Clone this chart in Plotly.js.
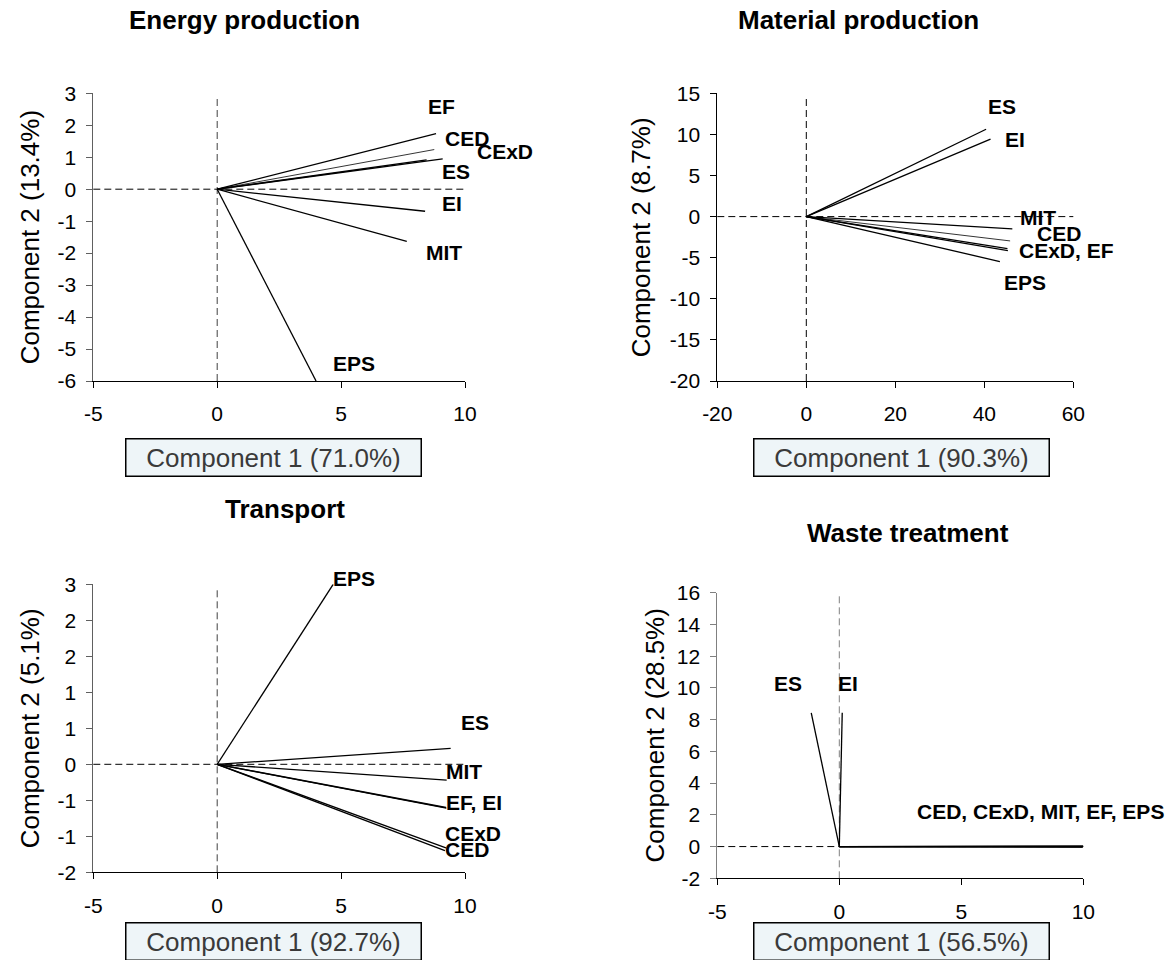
<!DOCTYPE html>
<html>
<head>
<meta charset="utf-8">
<script src="https://cdn.plot.ly/plotly-3.0.1.min.js"></script>
<style>html,body{margin:0;padding:0;background:#fff}#chart{width:1175px;height:960px}</style>
</head>
<body>
<div id="chart"></div>
<script>
// ---------------- data ----------------
const indicators = ['CED', 'CExD', 'MIT', 'EF', 'ES', 'EI', 'EPS'];

const energyX = [8.76, 9.10, 7.65, 8.83, 8.45, 8.39, 3.99];
const energyY = [1.24, 0.95, -1.63, 1.74, 0.92, -0.69, -6.00];

const materialX = [45.8, 45.2, 46.3, 45.3, 40.4, 41.4, 43.5];
const materialY = [-2.96, -3.90, -1.50, -4.15, 10.63, 9.42, -5.47];

const transportX = [9.19, 9.23, 9.26, 9.23, 9.42, 9.25, 4.68];
const transportY = [-1.20, -1.16, -0.22, -0.60, 0.22, -0.61, 2.50];

const wasteX = [10.0, 9.98, 9.99, 10.0, -1.15, 0.12, 9.97];
const wasteY = [0.02, -0.02, 0.00, 0.03, 8.43, 8.43, -0.03];

const panelTitles = ['Energy production', 'Material production', 'Transport', 'Waste treatment'];
const xTitles = ['Component 1 (71.0%)', 'Component 1 (90.3%)', 'Component 1 (92.7%)', 'Component 1 (56.5%)'];
const yTitles = ['Component 2 (13.4%)', 'Component 2 (8.7%)', 'Component 2 (5.1%)', 'Component 2 (28.5%)'];

const energyXTicks = [-5, 0, 5, 10];
const energyYTicks = [-6, -5, -4, -3, -2, -1, 0, 1, 2, 3];
const materialXTicks = [-20, 0, 20, 40, 60];
const materialYTicks = [-20, -15, -10, -5, 0, 5, 10, 15];
const transportXTicks = [-5, 0, 5, 10];
const transportYTicks = [-1.5, -1, -0.5, 0, 0.5, 1, 1.5, 2, 2.5];
const transportYTickText = ['-2', '-1', '-1', '0', '1', '1', '2', '2', '3'];
const wasteXTicks = [-5, 0, 5, 10];
const wasteYTicks = [-2, 0, 2, 4, 6, 8, 10, 12, 14, 16];

const energyLabelText = ['EF', 'CED', 'CExD', 'ES', 'EI', 'MIT', 'EPS'];
const materialLabelText = ['ES', 'EI', 'MIT', 'CED', 'CExD, EF', 'EPS'];
const transportLabelText = ['EPS', 'ES', 'MIT', 'EF, EI', 'CExD', 'CED'];
const wasteLabelText = ['ES', 'EI', 'CED, CExD, MIT, EF, EPS'];

// ---------------- layout helpers (styles / positions) ----------------
const W = 1175, H = 960;
const px = v => v / W;
const py = v => 1 - v / H;
const FONT = 'Liberation Sans, Arial, Helvetica, sans-serif';

// label placement: [indicator anchor, xshift, yshift, xanchor]
const energyLabelPos = [['EF', 5, 27, 'center'], ['CED', 10, 11, 'left'], ['CExD', 33, 7, 'left'], ['ES', 14, -12, 'left'], ['EI', 16, 8, 'left'], ['MIT', 18, -11, 'left'], ['EPS', 16, 18, 'left']];
const materialLabelPos = [['ES', 1, 23, 'left'], ['EI', 13, 0, 'left'], ['MIT', 7, 11, 'left'], ['CED', 26, 7, 'left'], ['CExD', 11, -2, 'left'], ['EPS', 3, -21, 'left']];
const transportLabelPos = [['EPS', -1, 6, 'left'], ['ES', 9, 26, 'left'], ['MIT', -2, 9, 'left'], ['EF', -1, 5, 'left'], ['CExD', -2, 14, 'left'], ['CED', -1, 1, 'left']];
const wasteLabelPos = [['ES', -38, 29, 'left'], ['EI', -5, 29, 'left'], ['CED', -167, 35, 'left']];

const panels = [
  {xs: energyX, ys: energyY, xr: [-5, 10], yr: [-6, 3], xt: energyXTicks, yt: energyYTicks, ytt: null,
   dom: [[93.3, 465], [93.3, 381]], labels: energyLabelText, lpos: energyLabelPos, ycol: '#606060', vcol: '#404040',
   title: [244, 20], ytitle: [30, 237.3], xtitle: [273.5, 457], thin: ['CED']},
  {xs: materialX, ys: materialY, xr: [-20, 60], yr: [-20, 15], xt: materialXTicks, yt: materialYTicks, ytt: null,
   dom: [[717.3, 1073.3], [93.3, 381]], labels: materialLabelText, lpos: materialLabelPos, ycol: '#000000', vcol: '#000000',
   title: [858, 20], ytitle: [641, 237.3], xtitle: [901, 457], thin: ['CED']},
  {xs: transportX, ys: transportY, xr: [-5, 10], yr: [-1.5, 2.5], xt: transportXTicks, yt: transportYTicks, ytt: transportYTickText,
   dom: [[93.3, 465], [584.3, 872.3]], labels: transportLabelText, lpos: transportLabelPos, ycol: '#606060', vcol: '#404040',
   title: [285, 509], ytitle: [30, 728.3], xtitle: [273.5, 941.5], thin: []},
  {xs: wasteX, ys: wasteY, xr: [-5, 10], yr: [-2, 16], xt: wasteXTicks, yt: wasteYTicks, ytt: null,
   dom: [[717.3, 1083.3], [592.7, 878.3]], labels: wasteLabelText, lpos: wasteLabelPos, ycol: '#808080', vcol: '#808080',
   title: [908, 533], ytitle: [654, 735.5], xtitle: [901, 941.5], thin: []}
];

const traces = [];
const layout = {
  width: W, height: H,
  margin: {l: 0, r: 0, t: 0, b: 0},
  paper_bgcolor: '#ffffff', plot_bgcolor: 'rgba(0,0,0,0)',
  showlegend: false,
  font: {family: FONT, color: '#000'},
  annotations: [], shapes: []
};

panels.forEach((p, k) => {
  const n = k + 1;
  const xa = n === 1 ? 'x' : 'x' + n;
  const ya = n === 1 ? 'y' : 'y' + n;
  const xKey = n === 1 ? 'xaxis' : 'xaxis' + n;
  const yKey = n === 1 ? 'yaxis' : 'yaxis' + n;

  layout[xKey] = {
    domain: [px(p.dom[0][0]), px(p.dom[0][1])], anchor: ya,
    range: p.xr, tickmode: 'array', tickvals: p.xt, ticktext: p.xt.map(String),
    showline: true, linecolor: '#000', linewidth: 1,
    ticks: 'outside', ticklen: 6, tickcolor: '#000', tickwidth: 1,
    showgrid: false, zeroline: false, fixedrange: true,
    tickfont: {family: FONT, size: 21, color: '#000'}, ticklabelstandoff: 8
  };
  layout[yKey] = {
    domain: [py(p.dom[1][1]), py(p.dom[1][0])], anchor: xa,
    range: p.yr, tickmode: 'array', tickvals: p.yt, ticktext: p.ytt ? p.ytt : p.yt.map(String),
    showline: true, linecolor: p.ycol, linewidth: 1,
    ticks: 'outside', ticklen: 6, tickcolor: p.ycol, tickwidth: 1,
    showgrid: false, zeroline: false, fixedrange: true,
    tickfont: {family: FONT, size: 21, color: '#000'}, ticklabelstandoff: 6
  };

  // reference dashed lines through the origin
  layout.shapes.push({type: 'line', xref: xa, yref: ya + ' domain', x0: 0, x1: 0, y0: 0, y1: 0.99,
    line: {color: p.vcol, width: 1, dash: '7px,4px'}, layer: 'below'});
  layout.shapes.push({type: 'line', xref: xa + ' domain', yref: ya, x0: 0, x1: 1, y0: 0, y1: 0,
    line: {color: '#000', width: 1, dash: '7px,4px'}, layer: 'below'});

  // loading vectors
  indicators.forEach((name, i) => {
    traces.push({
      type: 'scatter', mode: 'lines', xaxis: xa, yaxis: ya,
      x: [0, p.xs[i]], y: [0, p.ys[i]], name: name,
      line: {color: '#000', width: p.thin.includes(name) ? 0.8 : 1.3},
      hoverinfo: 'skip', showlegend: false
    });
  });

  // vector labels
  p.labels.forEach((txt, j) => {
    const [ref, dx, dy, anc] = p.lpos[j];
    const i = indicators.indexOf(ref);
    layout.annotations.push({
      xref: xa, yref: ya, x: p.xs[i], y: p.ys[i], text: '<b>' + txt + '</b>',
      showarrow: false, xanchor: anc, yanchor: 'middle', xshift: dx, yshift: dy,
      borderpad: 0, font: {family: FONT, size: 21, color: '#000'}
    });
  });

  // panel title
  layout.annotations.push({
    xref: 'paper', yref: 'paper', x: px(p.title[0]), y: py(p.title[1]),
    text: '<b>' + panelTitles[k] + '</b>', showarrow: false, xanchor: 'center', yanchor: 'middle',
    font: {family: FONT, size: 26, color: '#000'}
  });
  // y axis title
  layout.annotations.push({
    xref: 'paper', yref: 'paper', x: px(p.ytitle[0]), y: py(p.ytitle[1]),
    text: yTitles[k], textangle: -90, showarrow: false, xanchor: 'center', yanchor: 'middle',
    font: {family: FONT, size: 26, color: '#000'}
  });
  // x axis title in a box
  layout.annotations.push({
    xref: 'paper', yref: 'paper', x: px(p.xtitle[0]), y: py(p.xtitle[1]),
    text: xTitles[k], showarrow: false, xanchor: 'center', yanchor: 'middle',
    font: {family: FONT, size: 26, color: '#3a3a3a'},
    bgcolor: '#eef5f8', bordercolor: '#000', borderwidth: 1.5, borderpad: 0,
    width: 294, height: 36
  });
});

Plotly.newPlot('chart', traces, layout, {displayModeBar: false, staticPlot: true});
</script>
</body>
</html>
